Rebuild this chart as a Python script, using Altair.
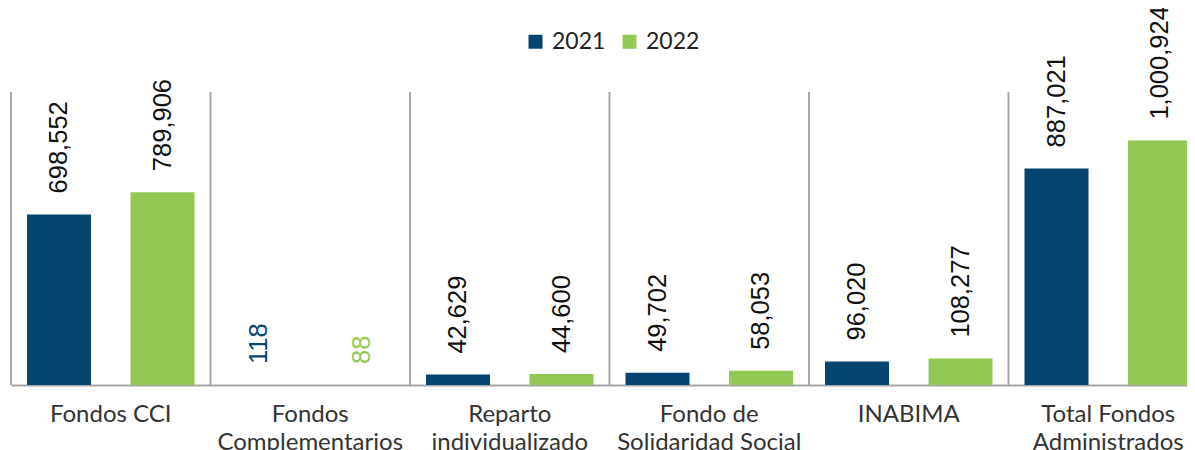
import altair as alt
import pandas as pd

categories = [
    "Fondos CCI",
    "Fondos Complementarios",
    "Reparto individualizado",
    "Fondo de Solidaridad Social",
    "INABIMA",
    "Total Fondos Administrados",
]
label_lines = [
    ["Fondos CCI"],
    ["Fondos", "Complementarios"],
    ["Reparto", "individualizado"],
    ["Fondo de", "Solidaridad Social"],
    ["INABIMA"],
    ["Total Fondos", "Administrados"],
]
years = ["2021", "2022"]
values_2021 = [698552, 118, 42629, 49702, 96020, 887021]
values_2022 = [789906, 88, 44600, 58053, 108277, 1000924]

Y_MAX = 1200000
WIDTH = 1176          # visible plot width (page is 1195 wide)
X_RANGE = 1197        # the band scale runs past the right edge, as in the reference
HEIGHT = 293
BAND = X_RANGE / len(categories)
BAR_W = 64
BAR_SHIFT = 51.75
BLUE = "#054572"
GREEN = "#92C853"
GRAY = "#A6A6A6"

rows = []
for c, v1, v2 in zip(categories, values_2021, values_2022):
    rows.append({"cat": c, "year": "2021", "value": v1})
    rows.append({"cat": c, "year": "2022", "value": v2})
df = pd.DataFrame(rows)
sep_df = pd.DataFrame({"cat": categories, "top": [Y_MAX] * len(categories), "bottom": [0] * len(categories)})

# label expression for multi-line axis labels
expr = "''"
for c, lines in reversed(list(zip(categories, label_lines))):
    arr = "[" + ",".join("'" + l + "'" for l in lines) + "]"
    expr = f"datum.label == '{c}' ? {arr} : ({expr})"

x_scale = alt.Scale(domain=categories, range=[0, X_RANGE], paddingInner=0, paddingOuter=0)
y_scale = alt.Scale(domain=[0, Y_MAX], nice=False)
color_scale = alt.Scale(domain=years, range=[BLUE, GREEN])

x_axis = alt.Axis(
    labelExpr=expr,
    labelAngle=0,
    labelFont="Lato",
    labelFontSize=24,
    labelColor="#333333",
    labelLineHeight=28,
    labelPadding=17,
    labelLimit=400,
    ticks=False,
    domainColor=GRAY,
    domainWidth=2,
    grid=False,
)
x_enc = alt.X("cat:N", scale=x_scale, title=None, axis=x_axis)
y_enc = alt.Y("value:Q", scale=y_scale, axis=None)

legend = alt.Legend(
    title=None,
    orient="none",
    direction="horizontal",
    legendX=513,
    legendY=-62,
    symbolType="square",
    symbolSize=196,
    symbolStrokeWidth=0,
    labelFont="Lato",
    labelFontSize=23,
    labelColor="#222222",
    labelOffset=5,
    columnPadding=12,
)

text_kw = dict(angle=270, align="left", baseline="middle", dx=21, font="Liberation Sans", fontSize=25.5)

layers = []
sep = alt.Chart(sep_df).mark_rule(
    color=GRAY, strokeWidth=2, xOffset=-BAND / 2
).encode(
    x=x_enc,
    y=alt.Y("top:Q", scale=y_scale, axis=None),
    y2="bottom:Q",
)
layers.append(sep)

for yr, shift in zip(years, [-BAR_SHIFT, BAR_SHIFT]):
    sub = alt.Chart(df).transform_filter(f"datum.year == '{yr}'")
    layers.append(
        sub.mark_bar(width=BAR_W, xOffset=shift).encode(
            x=x_enc,
            y=y_enc,
            color=alt.Color("year:N", scale=color_scale, legend=legend),
        )
    )
    layers.append(
        sub.transform_filter("datum.value >= 1000")
        .mark_text(color="#111111", xOffset=shift, **text_kw)
        .encode(x=x_enc, y=y_enc, text=alt.Text("value:Q", format=","))
    )
    layers.append(
        sub.transform_filter("datum.value < 1000")
        .mark_text(xOffset=shift, **text_kw)
        .encode(
            x=x_enc,
            y=y_enc,
            text=alt.Text("value:Q", format=","),
            color=alt.Color("year:N", scale=color_scale, legend=None),
        )
    )

chart = (
    alt.layer(*layers)
    .properties(
        width=WIDTH,
        height=HEIGHT,
        autosize=alt.AutoSizeParams(type="none"),
        padding={"left": 3, "top": 84, "right": 0, "bottom": 65},
    )
    .configure_view(stroke=None)
)

chart.save("out.html", embed_options={"renderer": "svg", "actions": False})
